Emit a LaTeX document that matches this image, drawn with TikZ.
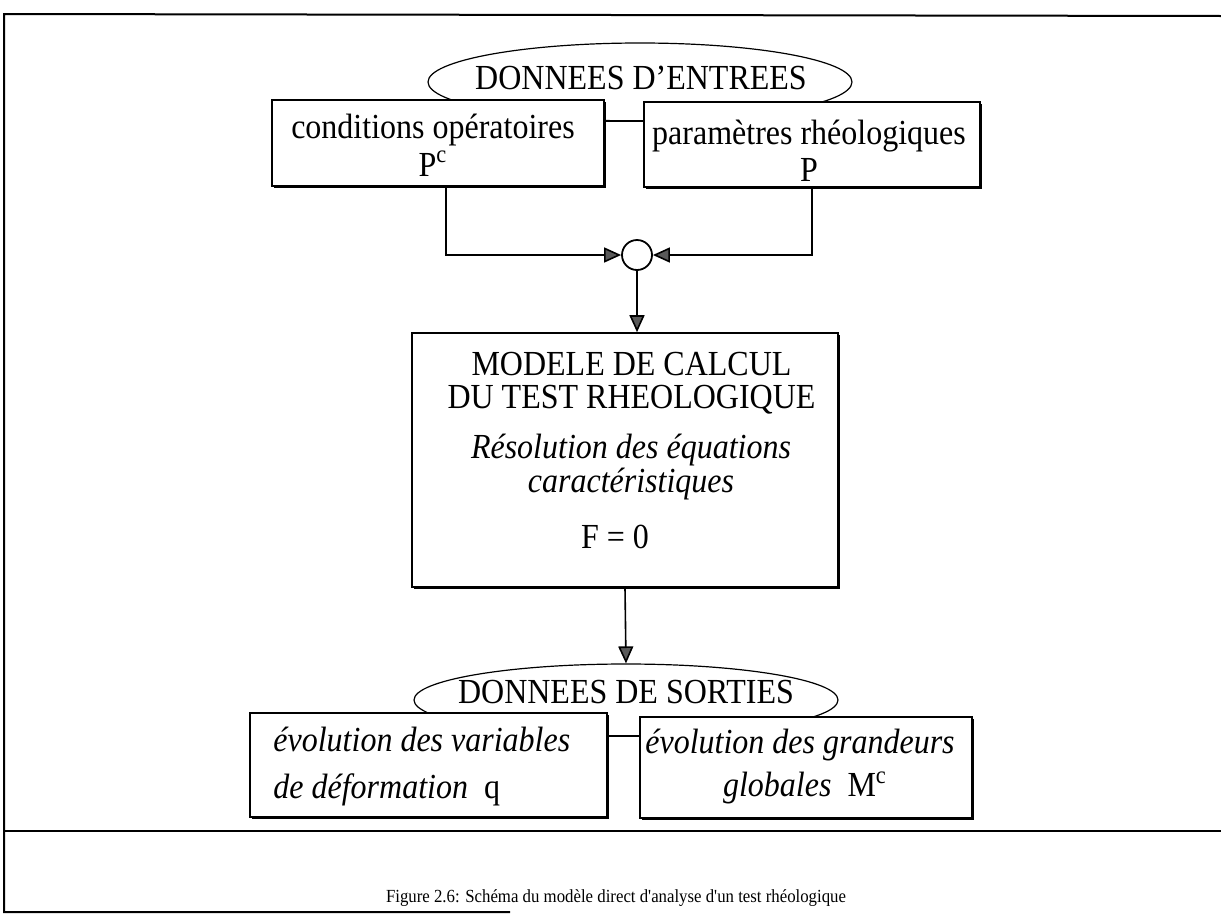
\documentclass[tikz,border=0pt]{standalone}
\usepackage{fontspec}
\setmainfont{Liberation Serif}
\usetikzlibrary{shapes.geometric,arrows.meta,shadows}

% text of the drawing is set slightly taller than wide
\newcommand\haut[1]{\scalebox{1}[1.1]{#1}}
\newcommand\deuxlignes[1]{\haut{\begin{tabular}{@{}c@{}}#1\end{tabular}}}

\begin{document}
\begin{tikzpicture}[x=0.5pt,y=-0.5pt,
  trait/.style={line width=0.75pt},
  boite/.style={draw, fill=white, line width=0.8pt, inner sep=0pt,
    drop shadow={shadow xshift=0.9pt, shadow yshift=-0.9pt, fill=black, opacity=1}},
  ovale/.style={ellipse, draw, line width=0.6pt, inner sep=0pt,
    minimum width=212pt, minimum height=39pt},
  txt/.style={inner sep=0pt, font=\fontsize{16}{18}\selectfont},
  fleche/.style={line width=0.8pt, -{Triangle[length=8.5pt,width=7.5pt,fill=black!65]}},
  cadre/.style={line width=1pt}]

\useasboundingbox (0,0) rectangle (1221,916);

% page frame
\coordinate (hg) at (4,14);
\coordinate (hd) at (1221,16);
\coordinate (bg) at (4,912);
\coordinate (bb) at (510,912);
\coordinate (mg) at (4,831);
\coordinate (md) at (1221,831);
\draw[cadre] (hd) -- (hg) -- (bg) -- (bb);
\draw[cadre] (mg) -- (md);

% input data
\node[ovale] (entree) at (640,82) {};
\node[txt] (tentree) at (641,78) {\haut{DONNEES D’ENTREES}};

\node[boite, minimum width=166pt, minimum height=43pt] (cond) at (438,143) {};
\node[txt] (tcond1) at (433,130) {\haut{conditions opératoires}};
\node[txt] (tcond2) at (433,164) {\haut{P\textsuperscript{c}}};

\node[boite, minimum width=168pt, minimum height=42.5pt] (param) at (812,144.5) {};
\node[txt] (tparam1) at (809,136) {\haut{paramètres rhéologiques}};
\node[txt] (tparam2) at (809,170) {\haut{P}};

\draw[trait] ([yshift=11pt]cond.east) -- ([yshift=11pt]cond.east -| param.west);

% junction
\node[circle, draw, line width=0.9pt, minimum size=15pt, inner sep=0pt] (jonc) at (637,255) {};
\draw[fleche] ([xshift=4pt]cond.south) |- (jonc.west);
\draw[fleche] (param.south) |- (jonc.east);

% computation model
\node[boite, minimum width=213pt, minimum height=127pt] (modele) at (625,460) {};
\draw[fleche] (jonc.south) -- (jonc.south |- modele.north);
\node[txt, font=\fontsize{16}{14.2}\selectfont] (tmod1) at (631.5,385)
  {\deuxlignes{MODELE DE CALCUL\\DU TEST RHEOLOGIQUE}};
\node[txt, font=\fontsize{16}{13.7}\selectfont\itshape] (tmod2) at (631,468)
  {\deuxlignes{Résolution des équations\\caractéristiques}};
\node[txt] (tmod3) at (615,537) {\haut{F = 0}};

% output data
\node[ovale, minimum height=36pt] (sortie) at (626,700) {};
\draw[fleche] (modele.south) -- (sortie.north);
\node[txt] (tsortie) at (626,692) {\haut{DONNEES DE SORTIES}};

\node[boite, minimum width=178.5pt, minimum height=52pt] (varq) at (428.5,765) {};
\node[boite, minimum width=166pt, minimum height=50.5pt] (globm) at (806,767.5) {};
\draw[trait] ([yshift=14.5pt]varq.east) -- ([yshift=14.5pt]varq.east -| globm.west);

\node[txt, anchor=west] (tvar1) at (273,739) {\haut{\itshape évolution des variables}};
\node[txt, anchor=west] (tvar2) at (273,790) {\haut{\textit{de déformation}\enspace q}};
\node[txt] (tglob1) at (800,745) {\haut{\itshape évolution des grandeurs}};
\node[txt] (tglob2) at (805,788) {\haut{\textit{globales}\enspace M\textsuperscript{c}}};

% caption
\node[inner sep=0pt, font=\fontsize{8.4}{10}\selectfont] (legende) at (616,898)
  {\haut{Figure 2.6: Schéma du modèle direct d\textquotesingle analyse d\textquotesingle un test rhéologique}};

\end{tikzpicture}
\end{document}
